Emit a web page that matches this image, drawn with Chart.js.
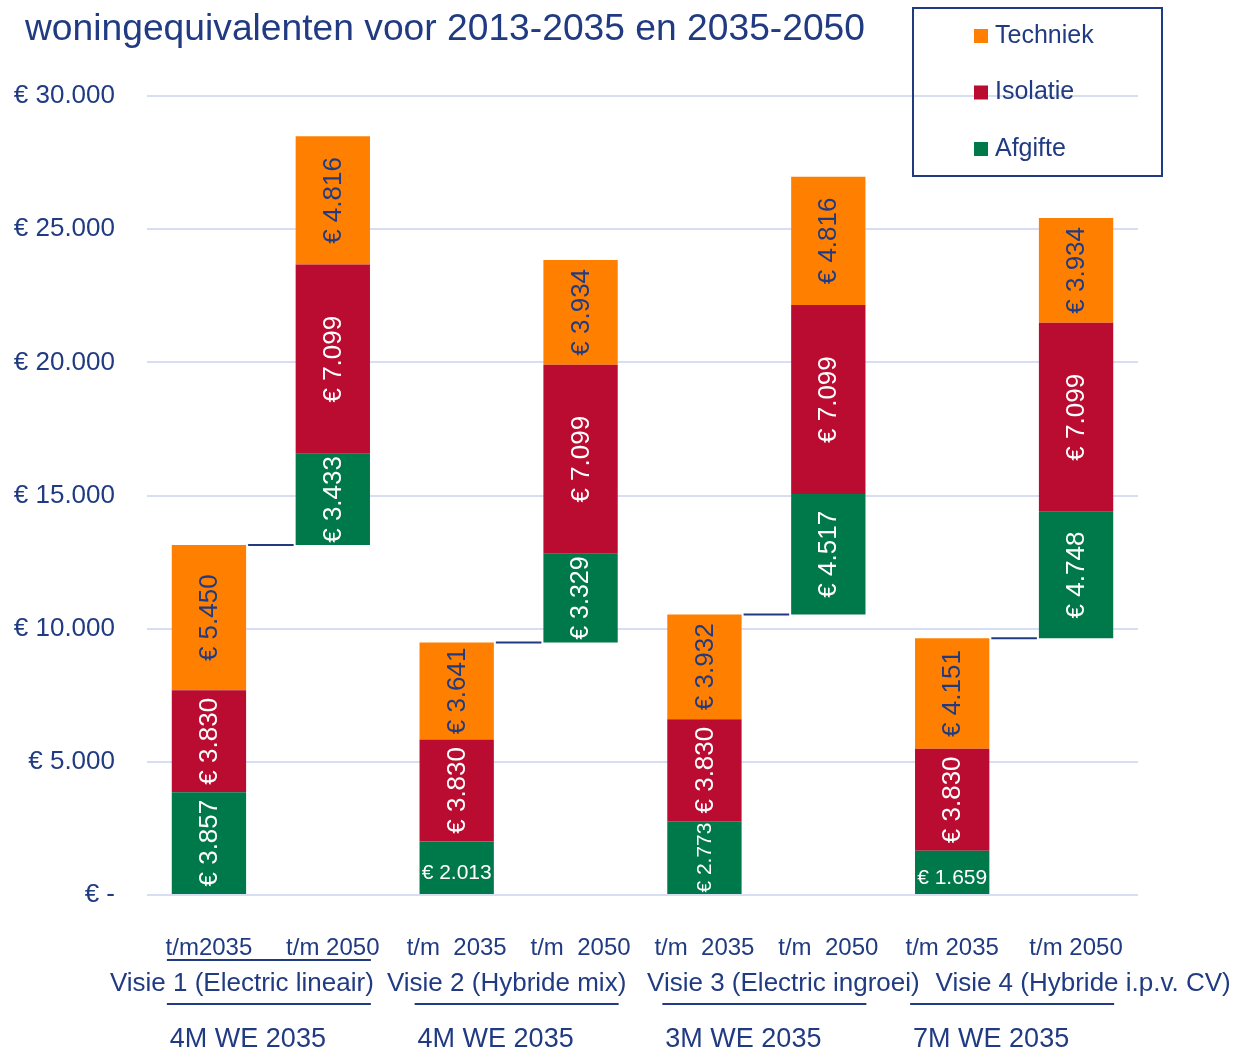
<!DOCTYPE html>
<html>
<head>
<meta charset="utf-8">
<script src="https://cdn.jsdelivr.net/npm/chart.js@4.4.1/dist/chart.umd.min.js"></script>
<style>
    html, body { margin: 0; padding: 0; background: #fff; }
</style>
</head>
<body>
<canvas id="kostenChart" width="1236" height="1052"></canvas>
<script>
// data uit de grafiek
var periodes = ['t/m2035', 't/m 2050', 't/m  2035', 't/m  2050', 't/m  2035', 't/m  2050', 't/m 2035', 't/m 2050'];
var visies = ['Visie 1 (Electric lineair)', 'Visie 2 (Hybride mix)', 'Visie 3 (Electric ingroei)', 'Visie 4 (Hybride i.p.v. CV)'];
var woningen = ['4M WE 2035', '4M WE 2035', '3M WE 2035', '7M WE 2035'];
var afgifte = [3857, 3433, 2013, 3329, 2773, 4517, 1659, 4748];
var isolatie = [3830, 7099, 3830, 7099, 3830, 7099, 3830, 7099];
var techniek = [5450, 4816, 3641, 3934, 3932, 4816, 4151, 3934];
var yTicks = [0, 5000, 10000, 15000, 20000, 25000, 30000];
var titel = 'woningequivalenten voor 2013-2035 en 2035-2050';

var navy = '#213B82';
var fontFam = '"Liberation Sans", Arial, sans-serif';

//de 2050 balk begint bovenop de 2035 balk
var basis = periodes.map(function (p, i) {
    if (i % 2 === 0) return 0;
    return afgifte[i - 1] + isolatie[i - 1] + techniek[i - 1];
});

function euro(v) {
    if (v === 0) return '€ -';
    return '€ ' + String(v).replace(/\B(?=(\d{3})+(?!\d))/g, '.');
}

var titelPlugin = {
    id: 'titel',
    afterDraw: function (chart) {
        var ctx = chart.ctx;
        ctx.save();
        ctx.font = '36px ' + fontFam;
        ctx.fillStyle = navy;
        ctx.textBaseline = 'alphabetic';
        var w = ctx.measureText(titel).width;
        ctx.translate(25, 40);
        ctx.scale(840 / w, 1);
        ctx.fillText(titel, 0, 0);
        ctx.restore();
    }
};

var legendaPlugin = {
    id: 'legenda',
    afterDraw: function (chart) {
        var ctx = chart.ctx;
        ctx.save();
        ctx.strokeStyle = navy;
        ctx.lineWidth = 2;
        ctx.strokeRect(913, 8, 249, 168);
        ctx.font = '25px ' + fontFam;
        ctx.textBaseline = 'middle';
        ctx.textAlign = 'left';
        var sets = chart.data.datasets.slice(1).reverse();
        sets.forEach(function (ds, k) {
            var y = 36 + k * 56.5;
            ctx.fillStyle = ds.backgroundColor;
            ctx.fillRect(974, y - 7, 14, 14);
            ctx.fillStyle = navy;
            ctx.fillText(ds.label, 995, y);
        });
        ctx.restore();
    }
};

var verbindPlugin = {
    id: 'verbind',
    afterDatasetsDraw: function (chart) {
        var ctx = chart.ctx;
        var top = chart.getDatasetMeta(3).data;
        ctx.save();
        ctx.strokeStyle = navy;
        ctx.lineWidth = 2;
        for (var i = 0; i < top.length; i += 2) {
            var a = top[i], b = top[i + 1];
            ctx.beginPath();
            ctx.moveTo(a.x + a.width / 2 + 2, a.y);
            ctx.lineTo(b.x - b.width / 2 - 2, a.y);
            ctx.stroke();
        }
        ctx.restore();
    }
};

var labelPlugin = {
    id: 'waardes',
    afterDatasetsDraw: function (chart) {
        var ctx = chart.ctx;
        ctx.save();
        ctx.textAlign = 'center';
        ctx.textBaseline = 'middle';
        [1, 2, 3].forEach(function (d) {
            var ds = chart.data.datasets[d];
            chart.getDatasetMeta(d).data.forEach(function (el, i) {
                var txt = euro(ds.data[i]);
                var h = Math.abs(el.base - el.y);
                var cy = (el.base + el.y) / 2;
                var size = 26;
                ctx.font = size + 'px ' + fontFam;
                var tw = ctx.measureText(txt).width;
                ctx.fillStyle = ds.labelColor;
                if (tw > h - 2) size = Math.floor(size * (h - 2) / tw);
                if (size < 18) {
                    //te klein om te draaien
                    ctx.font = '21px ' + fontFam;
                    ctx.fillText(txt, el.x, cy + 6);
                } else {
                    ctx.font = size + 'px ' + fontFam;
                    ctx.translate(el.x, cy);
                    ctx.rotate(-Math.PI / 2);
                    ctx.fillText(txt, 0, 1);
                    ctx.setTransform(1, 0, 0, 1, 0, 0);
                }
            });
        });
        ctx.restore();
    }
};

var groepPlugin = {
    id: 'groepen',
    afterDraw: function (chart) {
        var ctx = chart.ctx;
        var x = chart.scales.x;
        var verschuiving = [-29, -12, 17, 69];
        ctx.save();
        ctx.fillStyle = navy;
        ctx.strokeStyle = navy;
        ctx.lineWidth = 2;
        ctx.textAlign = 'center';
        ctx.textBaseline = 'middle';
        visies.forEach(function (v, g) {
            var cx = (x.getPixelForValue(2 * g) + x.getPixelForValue(2 * g + 1)) / 2;
            ctx.font = '26px ' + fontFam;
            ctx.fillText(v, cx + verschuiving[g], 984);
            ctx.font = '27px ' + fontFam;
            ctx.fillText(woningen[g], cx - 23, 1040);
            ctx.beginPath();
            ctx.moveTo(cx - 104, 1004);
            ctx.lineTo(cx + 100, 1004);
            if (g === 0) {
                ctx.moveTo(cx - 104, 960);
                ctx.lineTo(cx + 100, 960);
            }
            ctx.stroke();
        });
        ctx.restore();
    }
};

var ctx = document.getElementById('kostenChart').getContext('2d');
new Chart(ctx, {
    type: 'bar',
    data: {
        labels: periodes,
        datasets: [{
            label: 'basis',
            data: basis,
            backgroundColor: 'rgba(0,0,0,0)'
        }, {
            label: 'Afgifte',
            data: afgifte,
            backgroundColor: '#00794A',
            labelColor: '#ffffff'
        }, {
            label: 'Isolatie',
            data: isolatie,
            backgroundColor: '#BA0C30',
            labelColor: '#ffffff'
        }, {
            label: 'Techniek',
            data: techniek,
            backgroundColor: '#FF8000',
            labelColor: navy
        }]
    },
    options: {
        responsive: false,
        animation: false,
        layout: { padding: { top: 96, right: 98, left: 0, bottom: 0 } },
        datasets: { bar: { categoryPercentage: 1, barPercentage: 0.6, borderWidth: 0 } },
        plugins: { legend: { display: false }, tooltip: { enabled: false } },
        scales: {
            x: {
                stacked: true,
                grid: { display: false },
                border: { display: false },
                ticks: { color: navy, font: { size: 24, family: fontFam }, padding: 31, maxRotation: 0, autoSkip: false },
                afterFit: function (s) { s.height = 157; }
            },
            y: {
                stacked: true,
                min: 0,
                max: 30000,
                afterBuildTicks: function (s) { s.ticks = yTicks.map(function (v) { return { value: v }; }); },
                grid: { color: '#D7DEF4', lineWidth: 2, drawTicks: false },
                border: { display: false },
                ticks: {
                    color: navy,
                    font: { size: 26, family: fontFam },
                    padding: 32,
                    callback: function (v) { return euro(v); }
                },
                afterFit: function (s) { s.width = 147; }
            }
        }
    },
    plugins: [titelPlugin, legendaPlugin, verbindPlugin, labelPlugin, groepPlugin]
});
</script>
</body>
</html>
